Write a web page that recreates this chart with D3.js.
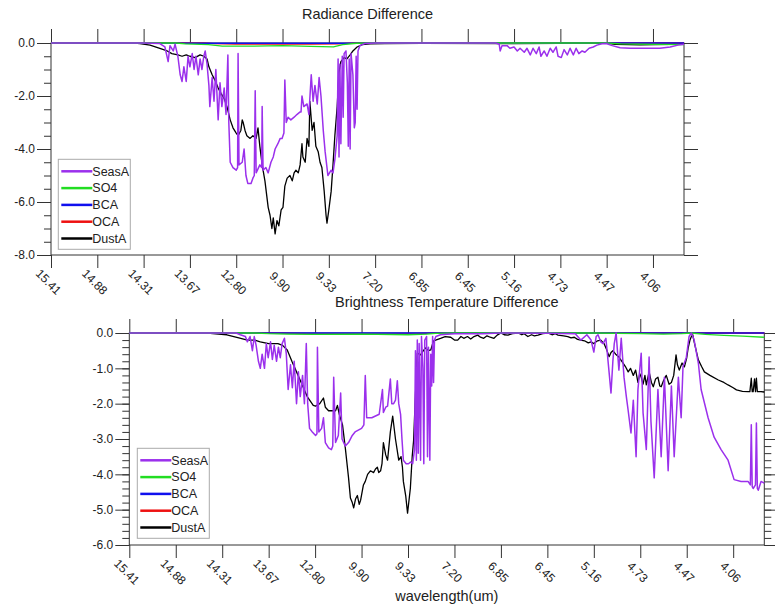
<!DOCTYPE html>
<html>
<head>
<meta charset="utf-8">
<script src="https://cdn.jsdelivr.net/npm/d3@7"></script>
<style>
  body { margin: 0; background: #fff; }
  svg { display: block; }
  text { font-family: "Liberation Sans", Arial, Helvetica, sans-serif; fill: #222; }
</style>
</head>
<body>
<svg id="chart" width="775" height="606"></svg>
<script>
// ---- channel axis (shared by both panels) ----
const channelDomain = [0, 1367];
const tickChannels = [0, 100, 200, 300, 400, 500, 600, 700, 800, 900, 1000, 1100, 1200, 1300];
const tickLabels = ["15.41", "14.88", "14.31", "13.67", "12.80", "9.90", "9.33",
                    "7.20", "6.85", "6.45", "5.16", "4.73", "4.47", "4.06"];

const seriesNames = ["SeasA", "SO4", "BCA", "OCA", "DustA"];
const seriesColors = ["#9b30ec", "#22dd22", "#1010ee", "#ee1010", "#000000"];
const seriesWidths = [1.5, 1.3, 1.3, 1.3, 1.3];

// ---- Radiance difference: [channel, value] ----
const radSeasA = [[0,0],[200,0],[235,-0.02],[246,-0.15],[253,-0.7],[257,-0.1],[264,-0.3],[268,-0.05],[274,-0.5],[279,-1.2],[283,-1.45],[287,-0.9],[292,-1.45],[296,-0.5],[300,-0.9],[305,-0.4],[309,-1.0],[313,-0.5],[318,-1.2],[322,-0.6],[326,-1.0],[330,-0.5],[333,-0.3],[337,-0.8],[341,-1.6],[343,-2.4],[348,-1.3],[352,-2.2],[356,-1.0],[361,-2.9],[365,-1.5],[369,-2.4],[374,-1.7],[378,-2.7],[382,-0.45],[384,-3.0],[387,-4.5],[393,-4.7],[400,-4.8],[403,-4.7],[404,-0.4],[406,-4.6],[413,-4.5],[417,-4.0],[421,-5.0],[425,-5.3],[432,-5.3],[436,-5.1],[439,-5.0],[441,-1.8],[443,-4.9],[451,-4.6],[455,-4.7],[456,-2.4],[458,-4.8],[464,-4.7],[469,-4.9],[475,-4.5],[480,-4.3],[484,-4.0],[490,-3.8],[495,-3.6],[499,-3.6],[503,-3.4],[505,-1.4],[508,-3.0],[512,-2.8],[518,-2.9],[525,-2.8],[531,-2.7],[538,-2.6],[540,-2.6],[542,-2.0],[546,-2.4],[553,-2.3],[557,-2.7],[562,-1.2],[566,-2.2],[570,-1.6],[575,-2.3],[579,-1.3],[583,-2.0],[588,-3.3],[592,-4.1],[598,-5.0],[605,-4.8],[609,-4.9],[613,-4.4],[618,-3.5],[620,-0.6],[622,-4.3],[624,-0.8],[626,-3.8],[629,-0.5],[631,-2.8],[633,-0.4],[637,-0.3],[640,-1.5],[642,-3.9],[644,-0.6],[646,-4.0],[648,-0.4],[652,-1.2],[655,-3.2],[657,-3.0],[659,-0.5],[661,-2.5],[663,-0.3],[667,-0.1],[678,-0.02],[700,0],[960,0],[968,-0.05],[970,-0.3],[974,-0.1],[985,-0.1],[991,-0.2],[1000,-0.15],[1007,-0.3],[1013,-0.2],[1022,-0.35],[1028,-0.2],[1035,-0.45],[1041,-0.2],[1048,-0.4],[1054,-0.15],[1058,-0.5],[1065,-0.3],[1071,-0.5],[1078,-0.2],[1084,-0.35],[1091,-0.15],[1095,-0.5],[1102,-0.55],[1108,-0.25],[1115,-0.45],[1121,-0.2],[1128,-0.45],[1134,-0.2],[1140,-0.4],[1147,-0.3],[1153,-0.35],[1162,-0.2],[1171,-0.15],[1179,-0.08],[1190,-0.03],[1199,-0.02],[1212,-0.1],[1229,-0.18],[1251,-0.2],[1283,-0.2],[1315,-0.2],[1337,-0.15],[1354,-0.08],[1367,-0.05]];
const radSO4 = [[0,0],[270,0],[290,-0.03],[340,-0.06],[370,-0.12],[420,-0.12],[500,-0.1],[560,-0.13],[610,-0.15],[630,-0.06],[660,-0.01],[700,0],[1200,0],[1230,-0.03],[1300,-0.05],[1367,-0.06]];
const radBCA = [[0,0],[350,-0.01],[650,-0.01],[700,0],[1367,0]];
const radOCA = [[0,0],[330,0],[350,-0.02],[400,-0.04],[560,-0.04],[620,-0.03],[660,0],[1367,0]];
const radDustA = [[0,0],[180,0],[192,-0.02],[214,-0.08],[235,-0.2],[251,-0.3],[261,-0.4],[274,-0.45],[283,-0.5],[292,-0.45],[300,-0.5],[311,-0.55],[322,-0.45],[330,-0.5],[337,-0.6],[341,-0.9],[348,-1.2],[354,-1.4],[361,-1.7],[367,-1.9],[374,-2.1],[380,-2.4],[387,-2.9],[393,-3.2],[400,-3.4],[404,-3.5],[410,-3.3],[413,-2.9],[415,-3.0],[419,-3.3],[423,-3.5],[430,-3.6],[436,-3.5],[443,-3.6],[447,-3.2],[451,-3.9],[456,-4.6],[462,-5.2],[469,-6.2],[473,-6.5],[477,-7.0],[480,-6.6],[484,-7.2],[488,-6.7],[492,-6.9],[497,-6.3],[501,-6.2],[505,-5.4],[510,-5.1],[516,-5.0],[521,-5.2],[525,-4.9],[529,-4.8],[534,-4.9],[538,-4.6],[542,-3.8],[544,-4.3],[549,-4.5],[553,-3.6],[557,-3.9],[559,-2.2],[564,-3.3],[568,-3.0],[572,-3.9],[577,-4.1],[581,-4.5],[585,-4.7],[590,-5.6],[594,-6.5],[596,-6.8],[600,-6.3],[605,-5.6],[609,-4.6],[613,-3.5],[618,-2.4],[622,-1.1],[626,-0.7],[633,-0.55],[639,-0.6],[646,-0.45],[652,-0.3],[661,-0.15],[672,-0.06],[689,-0.03],[721,-0.02],[800,-0.01],[1000,-0.02],[1199,0],[1218,-0.05],[1272,-0.07],[1337,-0.05],[1367,-0.03]];
const radYTicks = [0, -2, -4, -6, -8];

// ---- Brightness temperature difference: [channel, value] ----
const btSeasA = [[0,0],[230,0],[239,-0.05],[250,-0.1],[254,-0.25],[260,-0.1],[265,-0.5],[269,-0.1],[273,-0.35],[278,-0.8],[282,-1.0],[286,-0.6],[291,-1.0],[295,-0.3],[299,-0.7],[304,-0.25],[308,-0.75],[312,-0.35],[317,-0.8],[321,-0.4],[325,-0.7],[329,-0.3],[334,-0.15],[338,-0.6],[342,-1.6],[347,-0.9],[351,-1.55],[355,-0.8],[360,-2.0],[364,-1.1],[368,-1.8],[373,-1.2],[377,-2.0],[381,-0.3],[384,-2.0],[388,-2.7],[394,-2.8],[401,-2.9],[404,-2.85],[405,-0.4],[408,-2.8],[414,-2.7],[418,-2.4],[422,-3.1],[429,-3.25],[435,-3.3],[438,-3.2],[440,-1.25],[444,-3.1],[450,-2.9],[455,-1.7],[458,-3.0],[465,-3.2],[472,-3.1],[480,-2.9],[486,-2.8],[493,-2.75],[500,-2.7],[505,-2.6],[508,-1.2],[511,-2.4],[515,-2.4],[522,-2.4],[530,-2.35],[538,-2.3],[545,-1.6],[547,-2.25],[552,-2.1],[556,-2.07],[562,-1.3],[565,-2.0],[569,-2.0],[573,-1.9],[577,-1.35],[580,-2.0],[584,-2.3],[587,-3.0],[590,-3.6],[596,-3.7],[601,-3.7],[606,-3.65],[610,-3.7],[614,-3.3],[616,-0.5],[618,-3.6],[620,-0.2],[622,-3.4],[624,-0.3],[627,-3.6],[629,-0.1],[632,-1.0],[634,-3.7],[636,-0.2],[640,-0.1],[642,-3.5],[644,-0.4],[647,-3.6],[649,-0.6],[651,-1.5],[653,-0.1],[655,-1.4],[657,-0.2],[660,-0.1],[670,-0.05],[700,-0.02],[760,-0.02],[800,0],[900,-0.01],[960,-0.02],[972,-0.2],[985,-0.05],[994,-0.2],[1000,-0.54],[1005,-0.1],[1009,-0.05],[1015,-0.25],[1020,-0.3],[1026,-0.15],[1033,-1.13],[1037,-1.7],[1041,-0.8],[1044,-0.3],[1048,0],[1054,-1.05],[1059,-0.15],[1065,-1.25],[1070,-1.8],[1074,-2.2],[1080,-2.83],[1085,-1.9],[1091,-3.5],[1095,-1.6],[1102,-0.57],[1106,-2.26],[1113,-3.3],[1119,-0.68],[1123,-2.5],[1130,-4.1],[1138,-1.6],[1145,-3.5],[1152,-1.25],[1160,-3.9],[1167,-1.5],[1173,-3.5],[1182,-1.25],[1188,-2.4],[1192,-0.95],[1199,-0.7],[1205,-0.1],[1210,0],[1216,-0.2],[1225,-0.85],[1231,-1.6],[1246,-2.4],[1259,-2.95],[1274,-3.3],[1289,-3.6],[1302,-4.15],[1317,-4.2],[1332,-4.2],[1337,-4.3],[1339,-2.6],[1341,-4.35],[1343,-4.4],[1348,-4.3],[1350,-2.55],[1352,-4.4],[1354,-4.45],[1360,-4.2],[1367,-4.25]];
const btSO4 = [[0,0],[270,0],[300,-0.02],[340,-0.03],[400,-0.04],[500,-0.03],[600,-0.05],[640,-0.03],[660,-0.01],[700,0],[1000,0],[1100,-0.02],[1150,-0.03],[1190,-0.02],[1210,0],[1240,-0.04],[1280,-0.07],[1320,-0.09],[1367,-0.12]];
const btBCA = [[0,0],[1367,0]];
const btOCA = [[0,0],[330,0],[380,-0.02],[560,-0.03],[620,-0.02],[660,0],[1367,0]];
const btDustA = [[0,0],[168,0],[210,-0.05],[240,-0.15],[254,-0.2],[270,-0.2],[282,-0.25],[300,-0.3],[320,-0.3],[330,-0.35],[340,-0.48],[350,-0.8],[360,-1.1],[370,-1.4],[383,-1.8],[396,-2.05],[401,-2.07],[410,-2.0],[418,-1.84],[422,-2.1],[429,-2.2],[436,-2.2],[444,-2.2],[448,-2.05],[452,-2.3],[459,-2.6],[465,-3.25],[472,-4.1],[476,-4.67],[480,-4.8],[483,-4.95],[487,-4.7],[491,-4.6],[495,-4.85],[498,-4.73],[504,-4.3],[508,-4.2],[513,-4.0],[519,-3.9],[526,-3.95],[530,-3.85],[534,-3.8],[537,-3.95],[541,-3.9],[544,-3.7],[547,-3.1],[552,-3.45],[556,-3.6],[562,-2.8],[567,-2.35],[573,-3.0],[580,-3.6],[585,-3.5],[588,-3.8],[590,-4.2],[595,-4.6],[599,-5.1],[605,-4.4],[609,-3.5],[612,-3.05],[616,-1.75],[620,-0.57],[627,-0.62],[633,-0.5],[638,-0.42],[644,-0.5],[649,-0.48],[655,-0.22],[670,-0.15],[680,-0.1],[692,-0.12],[700,-0.2],[707,-0.2],[714,-0.1],[720,-0.15],[728,-0.1],[735,-0.17],[742,-0.1],[750,-0.06],[756,-0.12],[763,-0.15],[770,-0.08],[777,-0.12],[785,-0.15],[792,-0.06],[800,0],[807,-0.05],[815,-0.06],[825,-0.02],[837,0],[845,-0.05],[850,-0.02],[858,-0.1],[866,-0.05],[872,-0.08],[880,-0.06],[890,-0.02],[901,0],[910,-0.05],[917,-0.02],[923,-0.06],[935,-0.08],[944,-0.1],[951,-0.14],[958,-0.12],[965,-0.18],[972,-0.2],[980,-0.22],[988,-0.28],[994,-0.25],[1000,-0.3],[1008,-0.22],[1015,-0.2],[1022,-0.3],[1027,-0.45],[1033,-0.67],[1037,-0.55],[1041,-0.5],[1047,-0.6],[1054,-0.68],[1063,-0.85],[1068,-0.95],[1074,-1.1],[1079,-1.0],[1085,-1.2],[1090,-1.05],[1095,-1.4],[1099,-1.15],[1102,-1.25],[1106,-1.45],[1110,-1.2],[1113,-1.47],[1119,-1.1],[1124,-1.4],[1128,-1.52],[1133,-1.3],[1138,-1.25],[1142,-1.5],[1145,-1.52],[1150,-1.35],[1156,-1.2],[1162,-1.45],[1167,-1.4],[1172,-1.2],[1177,-0.62],[1180,-0.9],[1184,-1.05],[1190,-0.85],[1195,-0.96],[1200,-0.7],[1203,-0.43],[1207,-0.2],[1210,-0.1],[1213,-0.05],[1216,-0.25],[1225,-0.76],[1232,-0.95],[1238,-1.1],[1250,-1.2],[1268,-1.33],[1280,-1.4],[1289,-1.47],[1300,-1.55],[1307,-1.61],[1320,-1.65],[1332,-1.66],[1336,-1.66],[1339,-1.28],[1341,-1.66],[1343,-1.66],[1346,-1.3],[1348,-1.66],[1350,-1.28],[1352,-1.66],[1354,-1.66],[1360,-1.66],[1367,-1.67]];
const btYTicks = [0, -1, -2, -3, -4, -5, -6];

const svg = d3.select("#chart");

function drawPanel(cfg) {
  const g = svg.append("g").attr("transform", `translate(${cfg.left},${cfg.top})`);
  const x = d3.scaleLinear().domain(channelDomain).range([0, cfg.width]);
  const y = d3.scaleLinear().domain([cfg.yTicks[cfg.yTicks.length - 1], 0]).range([cfg.height, 0]);
  const minorTicks = d3.range(0, cfg.yTicks[cfg.yTicks.length - 1] - 1e-9, -cfg.yMinor);

  const styleAxis = sel => {
    sel.select(".domain").remove();
    sel.selectAll("line").attr("stroke", "#333").attr("stroke-width", 1);
  };

  // y axes: major + minor ticks, labels only on the left
  g.append("g").call(d3.axisLeft(y).tickValues(minorTicks).tickSize(7).tickFormat("")).call(styleAxis);
  g.append("g").call(d3.axisLeft(y).tickValues(cfg.yTicks).tickSize(14).tickPadding(2)
      .tickFormat(d => d.toFixed(1))).call(styleAxis)
    .selectAll("text").style("font-size", "12px").attr("fill", "#222");
  g.append("g").attr("transform", `translate(${cfg.width},0)`)
    .call(d3.axisRight(y).tickValues(minorTicks).tickSize(7).tickFormat("")).call(styleAxis);
  g.append("g").attr("transform", `translate(${cfg.width},0)`)
    .call(d3.axisRight(y).tickValues(cfg.yTicks).tickSize(14).tickFormat("")).call(styleAxis);

  // x axes: top ticks, bottom ticks with rotated labels
  g.append("g").call(d3.axisTop(x).tickValues(tickChannels).tickSize(14).tickFormat("")).call(styleAxis);
  const xb = g.append("g").attr("transform", `translate(0,${cfg.height})`)
    .call(d3.axisBottom(x).tickValues(tickChannels).tickSize(13)
      .tickFormat((d, i) => tickLabels[i])).call(styleAxis);
  xb.selectAll("text")
    .attr("x", 0).attr("y", 0).attr("dy", "0.35em")
    .attr("transform", "translate(-3,27) rotate(45)")
    .style("text-anchor", "middle").style("font-size", "12px").attr("fill", "#222");

  // frame
  g.append("rect").attr("width", cfg.width).attr("height", cfg.height)
    .attr("fill", "none").attr("stroke", "#333").attr("stroke-width", 1);

  // series lines (DustA first so SeasA sits on top)
  const line = d3.line().x(d => x(d[0])).y(d => y(d[1]));
  for (let i = seriesNames.length - 1; i >= 0; i--) {
    g.append("path").datum(cfg.series[i])
      .attr("d", line).attr("fill", "none")
      .attr("stroke", seriesColors[i]).attr("stroke-width", seriesWidths[i])
      .attr("stroke-linejoin", "round");
  }

  // title
  svg.append("text").attr("x", cfg.left + cfg.width / 2).attr("y", cfg.titleY)
    .attr("text-anchor", "middle").style("font-size", "14.5px").text(cfg.title);

  // legend
  const lg = svg.append("g").attr("transform", `translate(${cfg.legendX},${cfg.legendY})`);
  lg.append("rect").attr("width", 72).attr("height", 90)
    .attr("fill", "#fff").attr("stroke", "#aaa").attr("stroke-width", 1);
  seriesNames.forEach((name, i) => {
    const yy = 12 + i * 16.8;
    lg.append("line").attr("x1", 3).attr("x2", 34).attr("y1", yy).attr("y2", yy)
      .attr("stroke", seriesColors[i]).attr("stroke-width", 2.5);
    lg.append("text").attr("x", 34).attr("y", yy).attr("dy", "0.35em")
      .style("font-size", "12.5px").text(name);
  });
}

drawPanel({
  left: 51, top: 43, width: 633, height: 212,
  yTicks: radYTicks, yMinor: 0.5,
  title: "Radiance Difference", titleY: 19,
  legendX: 58.3, legendY: 159.3,
  series: [radSeasA, radSO4, radBCA, radOCA, radDustA]
});

drawPanel({
  left: 129.3, top: 333, width: 635, height: 212,
  yTicks: btYTicks, yMinor: 0.2,
  title: "Brightness Temperature Difference", titleY: 307,
  legendX: 137.3, legendY: 448.3,
  series: [btSeasA, btSO4, btBCA, btOCA, btDustA]
});

svg.append("text").attr("x", 129.3 + 635 / 2).attr("y", 601)
  .attr("text-anchor", "middle").style("font-size", "14.5px").text("wavelength(um)");
</script>
</body>
</html>
